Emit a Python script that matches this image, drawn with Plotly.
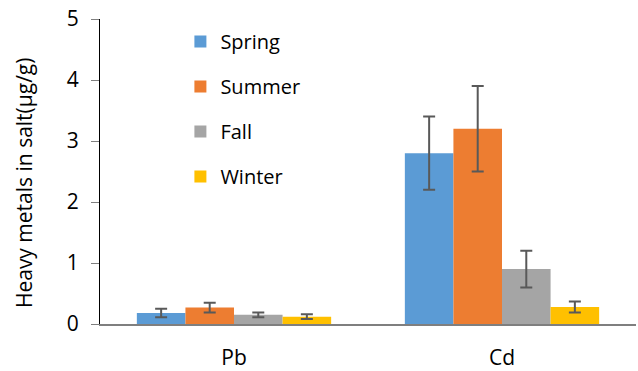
import plotly.graph_objects as go

categories = ["Pb", "Cd"]
seasons = ["Spring", "Summer", "Fall", "Winter"]
colors = ["#5B9BD5", "#ED7D31", "#A5A5A5", "#FFC000"]
values = {
    "Spring": [0.18, 2.8],
    "Summer": [0.27, 3.2],
    "Fall": [0.15, 0.9],
    "Winter": [0.12, 0.28],
}
errors = {
    "Spring": [0.07, 0.6],
    "Summer": [0.08, 0.7],
    "Fall": [0.04, 0.3],
    "Winter": [0.04, 0.09],
}
y_title = "Heavy metals in salt(µg/g)"

fig = go.Figure()
for s, c in zip(seasons, colors):
    fig.add_trace(go.Bar(
        x=categories, y=values[s], name=s, legendgroup=s,
        marker=dict(color=c, line=dict(width=0)),
        error_y=dict(type="data", array=errors[s], color="#595959", thickness=2, width=6),
    ))

FONT = "Open Sans, Noto Sans, sans-serif"
fig.update_layout(
    width=638, height=371,
    margin=dict(l=100, r=2, t=19, b=47),
    plot_bgcolor="white", paper_bgcolor="white",
    font=dict(family=FONT, color="#000000"),
    barmode="group", bargap=0.275, bargroupgap=0,
    showlegend=True,
    legend=dict(x=0.15, y=0.99, xanchor="left", yanchor="top",
                bgcolor="rgba(0,0,0,0)", font=dict(size=20),
                tracegroupgap=16, itemwidth=30),
    yaxis=dict(range=[0, 5], dtick=1, showgrid=False, zeroline=False,
               showline=True, linecolor="#000000", linewidth=1,
               ticks="outside", ticklen=8, tickcolor="#7f7f7f",
               tickfont=dict(size=21), ticklabelstandoff=8, automargin=False),
    xaxis=dict(showgrid=False, showline=True, linecolor="#7f7f7f", linewidth=2,
               ticks="", tickfont=dict(size=21), ticklabelstandoff=14,
               automargin=False),
    annotations=[dict(text=y_title, textangle=-90, showarrow=False,
                      xref="paper", yref="paper", x=-0.142, y=0.465,
                      xanchor="center", yanchor="middle",
                      font=dict(size=21, family=FONT))],
)
fig.write_html("out.html", post_script="document.body.style.margin='0';",
               config={"displayModeBar": False})
